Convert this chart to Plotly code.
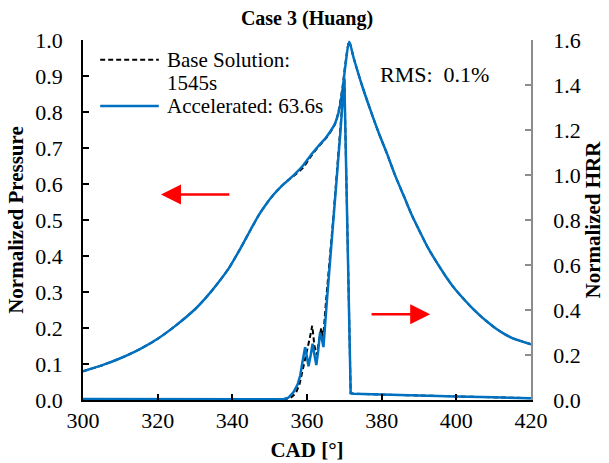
import plotly.graph_objects as go

# ---------------- data ----------------
cad_p = [300, 305, 310, 315, 320, 325, 330, 333, 336, 339, 342, 345, 347, 349, 351, 353,
         355, 357, 359, 361, 363, 365, 366.5, 367.5, 368.5, 369.5, 370.3, 371.3, 372.5, 374.7,
         377, 379.1, 381.4, 383.6, 386, 388.1, 390.3, 392.5, 395, 397, 399.2, 401.5, 404, 406,
         408.2, 410.4, 412.6, 415, 417.5, 420]
p_accel = [0.080, 0.096, 0.116, 0.140, 0.170, 0.208, 0.252, 0.285, 0.323, 0.365, 0.418, 0.475,
           0.512, 0.543, 0.570, 0.592, 0.611, 0.630, 0.652, 0.680, 0.705, 0.728, 0.750, 0.768,
           0.800, 0.860, 0.930, 0.995, 0.950, 0.875, 0.805, 0.745, 0.685, 0.624, 0.565, 0.513,
           0.466, 0.421, 0.378, 0.346, 0.314, 0.286, 0.258, 0.238, 0.218, 0.200, 0.185, 0.172,
           0.163, 0.155]
p_base = [0.080, 0.096, 0.116, 0.140, 0.170, 0.208, 0.252, 0.285, 0.323, 0.365, 0.418, 0.475,
          0.512, 0.543, 0.570, 0.592, 0.611, 0.627, 0.646, 0.676, 0.703, 0.726, 0.748, 0.766,
          0.805, 0.868, 0.935, 0.995, 0.950, 0.875, 0.805, 0.745, 0.685, 0.624, 0.565, 0.513,
          0.466, 0.421, 0.378, 0.346, 0.314, 0.286, 0.258, 0.238, 0.218, 0.200, 0.185, 0.172,
          0.163, 0.155]

cad_h_accel = [300, 330, 350, 353.5, 355, 356.4, 357.5, 358.2, 358.8, 359.5, 360.0, 360.4, 361.0,
               361.5, 362.0, 362.5, 363.0, 363.5, 364.0, 364.4, 365.3, 367.1, 368.9, 370.0,
               371.7, 372.5, 380, 390, 400, 410, 420]
hrr_accel = [0.004, 0.002, 0.002, 0.003, 0.010, 0.035, 0.070, 0.110, 0.170, 0.235, 0.190, 0.150,
             0.200, 0.250, 0.200, 0.155, 0.220, 0.300, 0.270, 0.235, 0.435, 0.790, 1.180, 1.430,
             0.030, 0.028, 0.024, 0.020, 0.016, 0.012, 0.008]

cad_h_base = [300, 330, 350, 353.5, 355.5, 357, 358, 359, 360, 360.8, 361.4, 362, 362.6, 363.2,
              363.8, 364.3, 365.0, 367.0, 368.8, 370.0, 371.7, 372.5, 380, 390, 400, 410, 420]
hrr_base = [0.004, 0.002, 0.002, 0.003, 0.008, 0.030, 0.070, 0.140, 0.220, 0.280, 0.330, 0.240,
            0.200, 0.260, 0.320, 0.270, 0.420, 0.800, 1.190, 1.430, 0.030, 0.028, 0.024, 0.020,
            0.016, 0.012, 0.008]

x_ticks = [300, 320, 340, 360, 380, 400, 420]
title_text = "Case 3 (Huang)"
legend_lines = ["Base Solution:", "1545s", "Accelerated: 63.6s"]
rms_text = "RMS:\u00a0 0.1%"

# ---------------- styling ----------------
BLUE = "#0070C0"
FONT = "Liberation Serif"
DASH = "5px,3px"

fig = go.Figure()
fig.add_trace(go.Scatter(x=cad_p, y=p_base, mode="lines", name="Base Solution: 1545s",
                         line=dict(color="black", width=2, dash=DASH, shape="spline",
                                   smoothing=0.8), yaxis="y", showlegend=False))
fig.add_trace(go.Scatter(x=cad_p, y=p_accel, mode="lines", name="Accelerated: 63.6s",
                         line=dict(color=BLUE, width=2.5, shape="spline", smoothing=0.8),
                         yaxis="y", showlegend=False))
fig.add_trace(go.Scatter(x=cad_h_base, y=hrr_base, mode="lines", showlegend=False,
                         line=dict(color="black", width=2, dash=DASH), yaxis="y2"))
fig.add_trace(go.Scatter(x=cad_h_accel, y=hrr_accel, mode="lines", showlegend=False,
                         line=dict(color=BLUE, width=2.5), yaxis="y2"))

fig.update_layout(
    width=609, height=463,
    margin=dict(l=83, r=78, t=40, b=63),
    paper_bgcolor="white", plot_bgcolor="white",
    font=dict(family=FONT, size=22, color="black"),
    title=dict(text="<b>" + title_text + "</b>", x=0.5, xref="paper", xanchor="center",
               y=0.962, yanchor="middle", font=dict(size=20, family=FONT)),
    xaxis=dict(range=[300, 420], tickvals=x_ticks, showline=True, linecolor="black",
               linewidth=1.5, ticks="inside", ticklen=6, tickcolor="black", tickwidth=1.5,
               showgrid=False, zeroline=False, mirror=False, automargin=False,
               tickfont=dict(family=FONT, size=22),
               title=dict(text="<b>CAD [°]</b>", font=dict(size=21, family=FONT), standoff=10)),
    yaxis=dict(range=[0, 1], dtick=0.1, tickformat=".1f", showline=True, linecolor="black",
               linewidth=1.5, ticks="inside", ticklen=6, tickcolor="black", tickwidth=1.5,
               showgrid=False, zeroline=False, ticklabelstandoff=14, automargin=False,
               tickfont=dict(family=FONT, size=22),
               title=dict(text="<b>Normalized Pressure</b>", font=dict(size=21, family=FONT),
                          standoff=6)),
    yaxis2=dict(range=[0, 1.6], dtick=0.2, tickformat=".1f", overlaying="y", side="right",
                showline=True, linecolor="#8c8c8c", linewidth=1.5, ticks="inside", ticklen=6,
                tickcolor="#8c8c8c", tickwidth=1.5, showgrid=False, zeroline=False,
                ticklabelstandoff=16, automargin=False, tickfont=dict(family=FONT, size=22),
                title=dict(text="<b>Normalized HRR</b>", font=dict(size=21, family=FONT),
                           standoff=4)),
    showlegend=False,
)

# hand-built legend (samples + text) placed in data coordinates
leg_x0, leg_x1, leg_tx = 304.6, 320.3, 322.0
leg_y = [0.945, 0.880, 0.817]
fig.add_shape(type="line", xref="x", yref="y", x0=leg_x0, x1=leg_x1, y0=leg_y[0], y1=leg_y[0],
              line=dict(color="black", width=2, dash=DASH))
fig.add_shape(type="line", xref="x", yref="y", x0=leg_x0, x1=leg_x1, y0=leg_y[2], y1=leg_y[2],
              line=dict(color=BLUE, width=2.5))
for txt, yy in zip(legend_lines, leg_y):
    fig.add_annotation(text=txt, x=leg_tx, y=yy, xref="x", yref="y", showarrow=False,
                       xanchor="left", yanchor="middle", font=dict(size=21, family=FONT))

fig.add_annotation(text=rms_text, x=379, y=0.905, xref="x", yref="y", showarrow=False,
                   font=dict(size=22, family=FONT), xanchor="left", yanchor="middle")

# red direction arrows
fig.add_annotation(x=320.9, y=0.571, ax=339.6, ay=0.571, xref="x", yref="y", axref="x",
                   ayref="y", text="", showarrow=True, arrowhead=2, arrowsize=1.6,
                   arrowwidth=2.5, arrowcolor="red", standoff=0)
fig.add_annotation(x=393.0, y=0.238, ax=376.9, ay=0.238, xref="x", yref="y", axref="x",
                   ayref="y", text="", showarrow=True, arrowhead=2, arrowsize=1.6,
                   arrowwidth=2.5, arrowcolor="red", standoff=0)

fig.write_html("out.html")
